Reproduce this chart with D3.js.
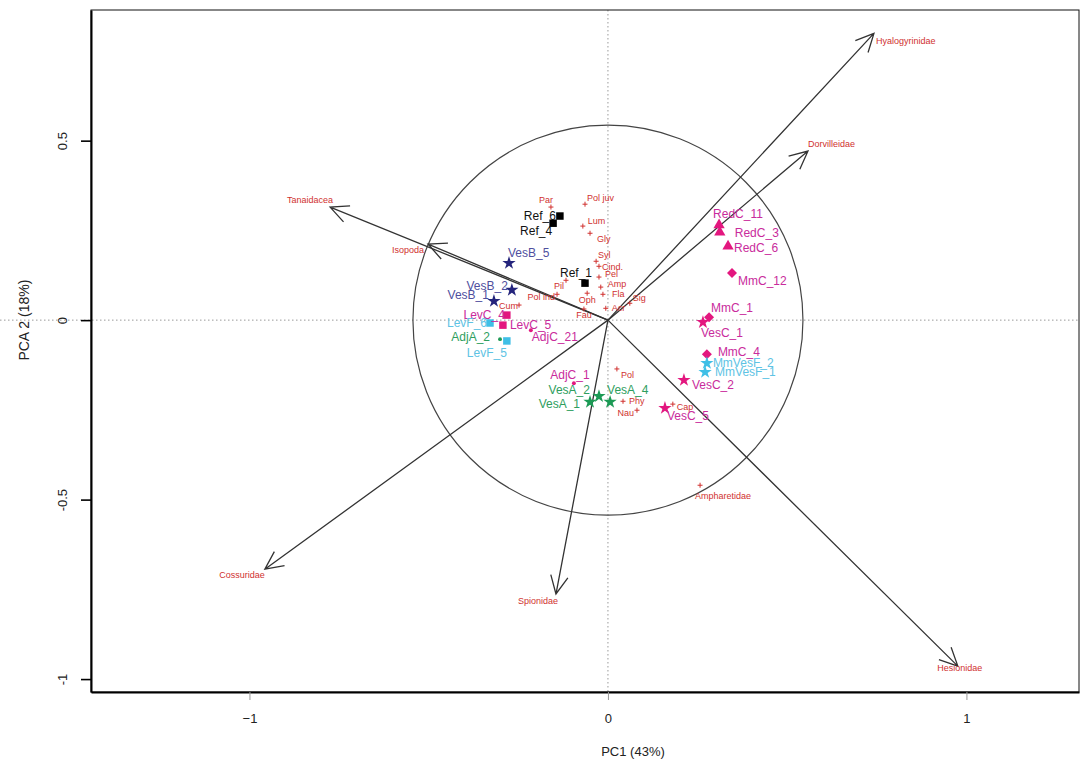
<!DOCTYPE html>
<html>
<head>
<meta charset="utf-8">
<script src="https://cdnjs.cloudflare.com/ajax/libs/d3/7.8.5/d3.min.js"></script>
<style>
  body { margin: 0; background: #fff; }
  svg { font-family: "Liberation Sans", Arial, sans-serif; }
</style>
</head>
<body>
<svg id="chart" width="1081" height="765"></svg>
<script>
// samples (sites)
var sampleNames = ["Ref_6", "Ref_4", "Ref_1", "VesB_5", "VesB_2", "VesB_1", "LevC_4", "LevC_5", "LevF_6", "AdjA_2",
    "LevF_5", "AdjC_21", "AdjC_1", "VesA_2", "VesA_1", "VesA_4", "VesC_5", "VesC_2", "MmC_4", "MmVesF_2",
    "MmVesF_1", "VesC_1", "MmC_1", "MmC_12", "RedC_6", "RedC_3", "RedC_11"];
var sampleX = [-0.134, -0.153, -0.064, -0.276, -0.268, -0.318, -0.282, -0.293, -0.329, -0.301,
    -0.282, -0.215, -0.095, -0.025, -0.050, 0.006, 0.159, 0.212, 0.276, 0.276,
    0.271, 0.265, 0.282, 0.346, 0.335, 0.312, 0.310];
var sampleY = [0.290, 0.270, 0.103, 0.159, 0.084, 0.053, 0.014, -0.014, -0.008, -0.053,
    -0.058, -0.028, -0.176, -0.212, -0.228, -0.228, -0.245, -0.167, -0.095, -0.120,
    -0.145, -0.006, 0.008, 0.131, 0.206, 0.245, 0.265];
var sampleGroup = ["Ref", "Ref", "Ref", "VesB", "VesB", "VesB", "LevC", "LevC", "LevF", "AdjA",
    "LevF", "AdjC", "AdjC", "VesA", "VesA", "VesA", "VesC", "VesC", "MmC", "MmVesF",
    "MmVesF", "VesC", "MmC", "MmC", "RedC", "RedC", "RedC"];

// taxa shown as points
var taxonNames = ["Par", "Pol juv", "Lum", "Gly", "Syl", "Cind.", "Pel", "Amp", "Fla", "Sig", "Acr", "Oph", "Fau",
    "Pil", "Pol ind", "Cum", "Pol", "Phy", "Nau", "Cap", "Ampharetidae"];
var taxonX = [-0.159, -0.064, -0.070, -0.050, -0.033, -0.025, -0.025, -0.020, -0.014, 0.061, -0.006, -0.058, -0.067,
    -0.117, -0.142, -0.248, 0.025, 0.042, 0.081, 0.181, 0.257];
var taxonY = [0.315, 0.323, 0.262, 0.242, 0.164, 0.150, 0.120, 0.092, 0.072, 0.047, 0.033, 0.075, 0.031,
    0.111, 0.072, 0.042, -0.136, -0.226, -0.251, -0.234, -0.460];

// taxa shown as vectors
var vectorNames = ["Hyalogyrinidae", "Dorvilleidae", "Tanaidacea", "Isopoda", "Cossuridae", "Spionidae", "Hesionidae"];
var vectorX = [0.742, 0.558, -0.775, -0.502, -0.957, -0.145, 0.976];
var vectorY = [0.799, 0.471, 0.315, 0.212, -0.694, -0.763, -0.964];

var circleRadius = 0.544;
var xTicks = [-1, 0, 1];
var yTicks = [-1, -0.5, 0, 0.5];
var xTitle = "PC1 (43%)";
var yTitle = "PCA 2 (18%)";

// styles per group
var pink = "#e3177f", pinkText = "#c92b9c";
var groupStyle = {
    Ref:    { shape: "square",   fill: "#000",    text: "#111" },
    VesB:   { shape: "star",     fill: "#24247c", text: "#4f4f9e" },
    LevC:   { shape: "square",   fill: pink,      text: pinkText },
    LevF:   { shape: "square",   fill: "#3fbfe6", text: "#5ec3e4" },
    AdjA:   { shape: "dot",      fill: "#1f9a55", text: "#2e9e5e" },
    AdjC:   { shape: "dot",      fill: pink,      text: pinkText },
    VesA:   { shape: "star",     fill: "#1c9a55", text: "#2e9e5e" },
    VesC:   { shape: "star",     fill: pink,      text: pinkText },
    MmC:    { shape: "diamond",  fill: pink,      text: pinkText },
    MmVesF: { shape: "star",     fill: "#3fbfe6", text: "#5ec3e4" },
    RedC:   { shape: "triangle", fill: pink,      text: pinkText }
};

// label placement [anchor, dx, dy] in px
var labelNudge = {
    "Ref_6": ["end", -4, 0], "Ref_4": ["end", -1, 8], "Ref_1": ["end", 7, -10],
    "VesB_5": ["start", -1, -10], "VesB_2": ["end", -4, -4], "VesB_1": ["end", -5, -6],
    "LevC_4": ["end", -2, 0], "LevC_5": ["start", 7, 0], "LevF_6": ["end", -3, 0],
    "AdjA_2": ["end", -10, -2], "LevF_5": ["end", 0, 12], "AdjC_21": ["start", 1, 7],
    "AdjC_1": ["middle", -4, -9], "VesA_2": ["end", -9, -6], "VesA_1": ["end", -10, 2],
    "VesA_4": ["start", -3, -12], "VesC_5": ["start", 2, 8], "VesC_2": ["start", 8, 5],
    "MmC_4": ["start", 11, -2], "MmVesF_2": ["start", 6, 0], "MmVesF_1": ["start", 10, 0],
    "VesC_1": ["start", -2, 11], "MmC_1": ["start", 2, -9], "MmC_12": ["start", 6, 8],
    "RedC_6": ["start", 6, 2], "RedC_3": ["start", 15, 1], "RedC_11": ["start", -6, -11],
    "Par": ["end", 2, -7], "Pol juv": ["start", 2, -6], "Lum": ["start", 5, -5], "Gly": ["start", 7, 6],
    "Syl": ["start", 2, -6], "Cind.": ["start", 3, 1], "Pel": ["start", 6, -3], "Amp": ["start", 7, -3],
    "Fla": ["start", 9, 0], "Sig": ["start", 3, -5], "Acr": ["start", 6, 0], "Oph": ["middle", 0, 7],
    "Fau": ["middle", 0, 6], "Pil": ["end", -2, 6], "Pol ind": ["end", -2, 3], "Cum": ["end", -1, 1],
    "Pol": ["start", 4, 6], "Phy": ["start", 6, 0], "Nau": ["end", -3, 3], "Cap": ["start", 4, 3],
    "Ampharetidae": ["start", -5, 11],
    "Hyalogyrinidae": ["start", 2, 8], "Dorvilleidae": ["start", 0, -7], "Tanaidacea": ["end", 3, -7],
    "Isopoda": ["end", -4, 6], "Cossuridae": ["end", 0, 6], "Spionidae": ["end", 2, 7],
    "Hesionidae": ["middle", 2, 2]
};

var svg = d3.select("#chart");
var plotLeft = 91, plotRight = 1079, plotTop = 10, plotBottom = 692;

var x = d3.scaleLinear().domain([-1.442, 1.314]).range([plotLeft, plotRight]);
var y = d3.scaleLinear().domain([-1.036, 0.864]).range([plotBottom, plotTop]);

// reference lines
svg.append("line")
    .attr("x1", 0).attr("x2", plotRight).attr("y1", y(0)).attr("y2", y(0))
    .attr("stroke", "#9a9a9a").attr("stroke-dasharray", "1.5,2.5");
svg.append("line")
    .attr("x1", x(0)).attr("x2", x(0)).attr("y1", plotTop).attr("y2", plotBottom)
    .attr("stroke", "#9a9a9a").attr("stroke-dasharray", "1.5,2.5");

// circle of equilibrium
svg.append("circle")
    .attr("cx", x(0)).attr("cy", y(0))
    .attr("r", x(circleRadius) - x(0))
    .attr("fill", "none").attr("stroke", "#444").attr("stroke-width", 1.2);

// vectors with open heads
var vectors = vectorNames.map(function (n, i) { return { name: n, x: vectorX[i], y: vectorY[i] }; });
var headLen = 20, headAng = Math.PI / 7;
svg.append("g").selectAll("path")
    .data(vectors)
    .enter()
    .append("path")
    .attr("d", function (d) {
        var x0 = x(0), y0 = y(0), x1 = x(d.x), y1 = y(d.y);
        var a = Math.atan2(y1 - y0, x1 - x0);
        var p = d3.path();
        p.moveTo(x0, y0); p.lineTo(x1, y1);
        p.moveTo(x1 - headLen * Math.cos(a - headAng), y1 - headLen * Math.sin(a - headAng));
        p.lineTo(x1, y1);
        p.lineTo(x1 - headLen * Math.cos(a + headAng), y1 - headLen * Math.sin(a + headAng));
        return p.toString();
    })
    .attr("fill", "none").attr("stroke", "#333").attr("stroke-width", 1.3);

function addLabels(g, data, size) {
    g.selectAll("text")
        .data(data)
        .enter()
        .append("text")
        .attr("x", function (d) { return x(d.x) + labelNudge[d.name][1]; })
        .attr("y", function (d) { return y(d.y) + labelNudge[d.name][2]; })
        .attr("dy", "0.35em")
        .attr("text-anchor", function (d) { return labelNudge[d.name][0]; })
        .attr("font-size", size)
        .attr("fill", function (d) { return d.color; })
        .text(function (d) { return d.name; });
}

vectors.forEach(function (d) { d.color = "#d0312f"; });
addLabels(svg.append("g"), vectors, 9);

// taxa points
var taxa = taxonNames.map(function (n, i) { return { name: n, x: taxonX[i], y: taxonY[i], color: "#d0312f" }; });
svg.append("g").selectAll("path")
    .data(taxa)
    .enter()
    .append("path")
    .attr("transform", function (d) { return "translate(" + x(d.x) + "," + y(d.y) + ")"; })
    .attr("d", "M-2.5,0H2.5M0,-2.5V2.5")
    .attr("stroke", "#d0312f").attr("stroke-width", 1);
addLabels(svg.append("g"), taxa, 9);

// sample points
var samples = sampleNames.map(function (n, i) {
    var s = groupStyle[sampleGroup[i]];
    return { name: n, x: sampleX[i], y: sampleY[i], style: s, color: s.text };
});
var symbolOf = {
    square: d3.symbol().type(d3.symbolSquare).size(56),
    diamond: d3.symbol().type(d3.symbolSquare).size(50),
    star: d3.symbol().type(d3.symbolStar).size(55),
    triangle: d3.symbol().type(d3.symbolTriangle).size(55),
    dot: d3.symbol().type(d3.symbolCircle).size(12)
};
svg.append("g").selectAll("path")
    .data(samples)
    .enter()
    .append("path")
    .attr("transform", function (d) {
        var t = "translate(" + x(d.x) + "," + y(d.y) + ")";
        return d.style.shape == "diamond" ? t + " rotate(45)" : t;
    })
    .attr("d", function (d) { return symbolOf[d.style.shape](); })
    .attr("fill", function (d) { return d.style.fill; });
addLabels(svg.append("g"), samples, 12);

// frame and axes
svg.append("rect")
    .attr("x", plotLeft).attr("y", plotTop).attr("width", plotRight - plotLeft).attr("height", plotBottom - plotTop)
    .attr("fill", "none").attr("stroke", "#111").attr("stroke-width", 1);

var yAxis = d3.axisLeft(y).tickValues(yTicks).tickSize(10).tickSizeOuter(0)
    .tickFormat(function (d) { return String(d); });
var gy = svg.append("g").attr("transform", "translate(" + plotLeft + ",0)").call(yAxis);
gy.select(".domain").attr("stroke-width", 2);
gy.selectAll(".tick line").attr("stroke-width", 1.6);
gy.selectAll(".tick text")
    .attr("transform", "rotate(-90)")
    .attr("x", 0).attr("y", -29).attr("dy", "0.35em")
    .attr("text-anchor", "middle")
    .attr("font-size", 13).attr("fill", "#222")
    .attr("font-family", "Liberation Sans, Arial, sans-serif");

var xAxis = d3.axisBottom(x).tickValues(xTicks).tickSize(8).tickSizeOuter(0)
    .tickFormat(function (d) { return d < 0 ? "\u22121" : String(d); });
var gx = svg.append("g").attr("transform", "translate(0," + plotBottom + ")").call(xAxis);
gx.select(".domain").attr("stroke-width", 2.2);
gx.selectAll(".tick line").attr("stroke", "#999");
gx.selectAll(".tick text")
    .attr("y", 22).attr("font-size", 13).attr("fill", "#222")
    .attr("font-family", "Liberation Sans, Arial, sans-serif");

svg.append("text")
    .attr("x", 633).attr("y", 756)
    .attr("text-anchor", "middle").attr("font-size", 13).attr("fill", "#222")
    .text(xTitle);
svg.append("text")
    .attr("transform", "translate(24," + y(0) + ") rotate(-90)")
    .attr("text-anchor", "middle").attr("dy", "0.35em").attr("font-size", 14).attr("fill", "#222")
    .text(yTitle);
</script>
</body>
</html>
